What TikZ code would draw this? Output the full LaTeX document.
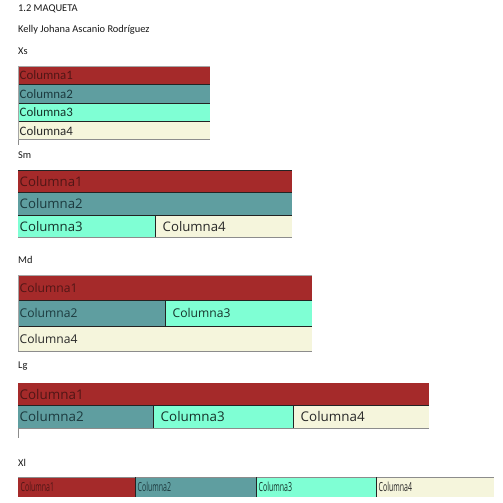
\documentclass[tikz,border=0pt]{standalone}
\usepackage{fontspec}
\setmainfont{Carlito}
\newfontfamily\cellsans{Open Sans}
\definecolor{cred}{HTML}{A52A2A}
\definecolor{cteal}{HTML}{5F9EA0}
\definecolor{caqua}{HTML}{7FFFD4}
\definecolor{cbeige}{HTML}{F5F5DC}
\definecolor{tred}{RGB}{80,22,22}
\definecolor{tteal}{RGB}{28,58,62}
\definecolor{taqua}{RGB}{22,50,42}
\definecolor{tbeige}{RGB}{40,40,40}
\definecolor{bord}{RGB}{35,35,35}
\tikzset{
  cellbox/.style={draw=none, inner sep=0pt, rectangle},
  celltext/.style={inner xsep=1.5pt, inner ysep=0pt},
  head/.style={anchor=west, inner sep=0pt, font=\fontsize{10.4}{12}\selectfont, text=black!90},
  fxs/.style={font=\fontsize{12.9}{15}\selectfont},
  fsm/.style={font=\cellsans\fontsize{13.2}{15}\selectfont},
  fmd/.style={font=\cellsans\fontsize{12.1}{14}\selectfont},
  flg/.style={font=\cellsans\fontsize{13.4}{15}\selectfont},
  fxl/.style={font=\cellsans\fontsize{12.5}{14}\selectfont},
  darkline/.style={draw=bord, line width=1pt},
  lightline/.style={draw=black!35, line width=0.8pt},
  greyline/.style={draw=black!45, line width=1pt},
  tick/.style={draw=black!45, line width=0.8pt}
}
% name, x1, y1, x2, y2, fill, textcolor, text, font style, text shift
\newcommand\tcell[9]{%
  \node[cellbox, fill=#6, minimum width={#4-#2}, minimum height={#5-#3}, anchor=north west] (#1) at (#2,#3) {};
  \node[celltext, #9, text=#7, anchor=west] (#1t) at ([xshift=\tshift]#1.west) {#8};}
\newcommand\tshift{0pt}
\begin{document}
\begin{tikzpicture}[x=1pt,y=-1pt]
\useasboundingbox[fill=white] (0,0) rectangle (503,503);
% headers
\node[head] (title) at (18,9) {1.2 MAQUETA};
\node[head] (author) at (18,30) {Kelly Johana Ascanio Rodríguez};
\node[head] (hxs) at (18,51) {Xs};
\node[head] (hsm) at (18,155) {Sm};
\node[head] (hmd) at (18,260) {Md};
\node[head] (hlg) at (18,366) {Lg};
\node[head] (hxl) at (18,463) {Xl};
% Xs
\tcell{xa}{18}{66}{210}{84.5}{cred}{tred}{Columna1}{fxs}
\tcell{xb}{18}{84.5}{210}{103}{cteal}{tteal}{Columna2}{fxs}
\tcell{xc}{18}{103}{210}{121.5}{caqua}{taqua}{Columna3}{fxs}
\tcell{xd}{18}{121.5}{210}{139.5}{cbeige}{tbeige}{Columna4}{fxs}
\draw[lightline] (xa.north west) -- (xa.north east);
\draw[darkline] (xa.south west) -- (xa.south east);
\draw[darkline] (xb.south west) -- (xb.south east);
\draw[darkline] (xc.south west) -- (xc.south east);
\draw[greyline] (xd.south west) -- (xd.south east);
\draw[lightline] (xa.north west) -- (xd.south west);
\draw[tick] (xd.south west) -- ++(0,5);
% Sm
\tcell{sa}{18}{170}{292}{192.5}{cred}{tred}{Columna1}{fsm}
\tcell{sb}{18}{192.5}{292}{215}{cteal}{tteal}{Columna2}{fsm}
\tcell{sc}{18}{215}{155}{237}{caqua}{taqua}{Columna3}{fsm}
\renewcommand\tshift{6pt}
\tcell{sd}{155}{215}{292}{237}{cbeige}{tbeige}{Columna4}{fsm}
\renewcommand\tshift{0pt}
\draw[darkline] (sa.north west) -- (sa.north east);
\draw[darkline] (sa.south west) -- (sa.south east);
\draw[darkline] (sb.south west) -- (sb.south east);
\draw[darkline] (sd.north west) -- (sd.south west);
\draw[greyline] (sc.south west) -- (sd.south east);
% Md
\tcell{ma}{18}{275}{312}{300.5}{cred}{tred}{Columna1}{fmd}
\tcell{mb}{18}{300.5}{165}{326}{cteal}{tteal}{Columna2}{fmd}
\renewcommand\tshift{6pt}
\tcell{mc}{165}{300.5}{312}{326}{caqua}{taqua}{Columna3}{fmd}
\renewcommand\tshift{0pt}
\tcell{md}{18}{326}{312}{351}{cbeige}{tbeige}{Columna4}{fmd}
\draw[lightline] (ma.north west) -- (ma.north east);
\draw[darkline] (ma.south west) -- (ma.south east);
\draw[darkline] (mb.south west) -- (mc.south east);
\draw[darkline] (mc.north west) -- (mc.south west);
\draw[greyline] (md.south west) -- (md.south east);
\draw[lightline] (ma.north west) -- (md.south west);
% Lg
\tcell{la}{18}{383}{429}{405.5}{cred}{tred}{Columna1}{flg}
\tcell{lb}{18}{405.5}{153}{428}{cteal}{tteal}{Columna2}{flg}
\renewcommand\tshift{6pt}
\tcell{lc}{153}{405.5}{293}{428}{caqua}{taqua}{Columna3}{flg}
\tcell{ld}{293}{405.5}{429}{428}{cbeige}{tbeige}{Columna4}{flg}
\renewcommand\tshift{0pt}
\draw[darkline] (la.south west) -- (la.south east);
\draw[darkline] (lc.north west) -- (lc.south west);
\draw[darkline] (ld.north west) -- (ld.south west);
\draw[greyline] (lb.south west) -- (ld.south east);
\draw[tick] (lb.south west) -- ++(0,10);
% Xl
\renewcommand\tshift{1pt}
\tcell{ya}{18}{477}{135}{497}{cred}{tred}{\scalebox{0.56}[1]{Columna1}}{fxl}
\tcell{yb}{135}{477}{256}{497}{cteal}{tteal}{\scalebox{0.56}[1]{Columna2}}{fxl}
\tcell{yc}{256}{477}{376}{497}{caqua}{taqua}{\scalebox{0.56}[1]{Columna3}}{fxl}
\tcell{yd}{376}{477}{494}{497}{cbeige}{tbeige}{\scalebox{0.56}[1]{Columna4}}{fxl}
\draw[greyline] (ya.north west) -- (yd.north east);
\draw[darkline] (yb.north west) -- (yb.south west);
\draw[darkline] (yc.north west) -- (yc.south west);
\draw[darkline] (yd.north west) -- (yd.south west);
\end{tikzpicture}
\end{document}
